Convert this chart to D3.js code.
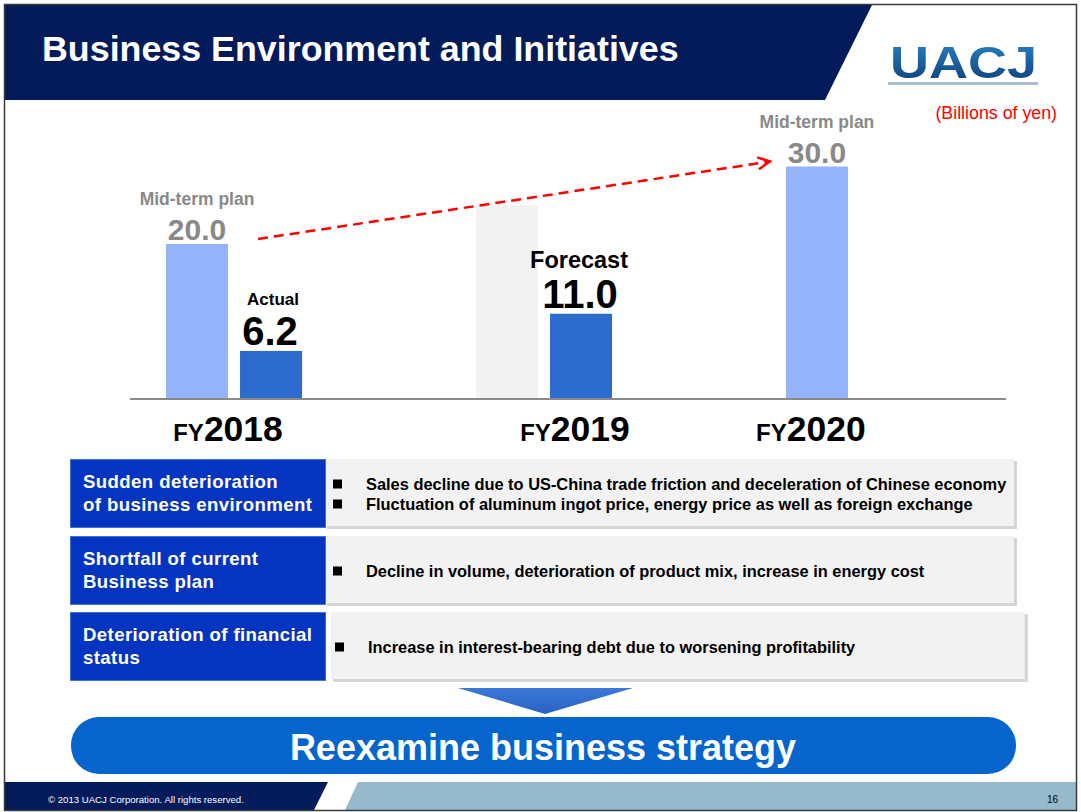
<!DOCTYPE html>
<html>
<head>
<meta charset="utf-8">
<title>Business Environment and Initiatives</title>
<style>
  body { margin: 0; background: #fff; }
  svg { display: block; font-family: "Liberation Sans", Arial, sans-serif; }
  text { font-weight: bold; }
</style>
</head>
<body>
<script src="https://cdn.jsdelivr.net/npm/d3@7"></script>
<script>
// ---- data ----
const categories = ['FY2018', 'FY2019', 'FY2020'];
const planValues = [20.0, null, 30.0];
const resultValues = [6.2, 11.0, null];
const ghostValues = [null, 25.0, null];   // faint placeholder bar in FY2019
const resultLabels = ['Actual', 'Forecast', null];
const planLabel = 'Mid-term plan';
const unitLabel = '(Billions of yen)';

const issueTitles = [
  ['Sudden deterioration', 'of business environment'],
  ['Shortfall of current', 'Business plan'],
  ['Deterioration of financial', 'status']
];
const issueDetails = [
  ['Sales decline due to US-China trade friction and deceleration of Chinese economy',
   'Fluctuation of aluminum ingot price, energy price as well as foreign exchange'],
  ['Decline in volume, deterioration of product mix, increase in energy cost'],
  ['Increase in interest-bearing debt due to worsening profitability']
];
const conclusion = 'Reexamine business strategy';

const width = 1081;
const height = 812;
const navy = '#031b5b';

const svg = d3.select('body').append('svg')
  .attr('width', width)
  .attr('height', height);

const defs = svg.append('defs');

// ---- header ----
svg.append('path')
  .attr('d', 'M5,5L872,5L825,100L5,100Z')
  .attr('fill', navy);

svg.append('text')
  .attr('x', 42).attr('y', 61)
  .attr('fill', '#fff')
  .style('font-size', '35.8px')
  .text('Business Environment and Initiatives');

// logo
const logoGrad = defs.append('linearGradient')
  .attr('id', 'logo-grad').attr('x1', 0).attr('y1', 0).attr('x2', 0).attr('y2', 1);
logoGrad.append('stop').attr('offset', '0%').attr('stop-color', '#2a86c6');
logoGrad.append('stop').attr('offset', '100%').attr('stop-color', '#0c3a78');

svg.append('text')
  .attr('x', 890).attr('y', 78)
  .attr('textLength', 147)
  .attr('lengthAdjust', 'spacingAndGlyphs')
  .attr('fill', 'url(#logo-grad)')
  .style('font-size', '44px')
  .text('UACJ');

svg.append('rect')
  .attr('x', 888).attr('y', 82).attr('width', 150).attr('height', 3)
  .attr('fill', '#a9bccf');

svg.append('text')
  .attr('x', 1057).attr('y', 119)
  .attr('text-anchor', 'end')
  .attr('fill', '#ff0000')
  .style('font-weight', 'normal')
  .style('font-size', '17.8px')
  .text(unitLabel);

// ---- bar chart ----
const x = d3.scaleBand()
  .domain(categories)
  .range([166, 922])
  .paddingInner(0.561);

const slot = d3.scaleBand()
  .domain(['plan', 'result'])
  .range([0, x.bandwidth()])
  .paddingInner(0.162);

const y = d3.scaleLinear()
  .domain([0, 30])
  .range([399, 166.5]);

const bars = [];
categories.forEach((c, i) => {
  if (ghostValues[i] != null) bars.push({ cat: c, kind: 'ghost', slot: 'plan', value: ghostValues[i] });
  if (planValues[i] != null) bars.push({ cat: c, kind: 'plan', slot: 'plan', value: planValues[i] });
  if (resultValues[i] != null) bars.push({ cat: c, kind: 'result', slot: 'result', value: resultValues[i], label: resultLabels[i] });
});

const barColor = { ghost: '#f2f2f2', plan: '#94b3fb', result: '#2d6bce' };
const bx = (d) => x(d.cat) + slot(d.slot);

svg.append('g').selectAll('rect')
  .data(bars)
  .join('rect')
    .attr('x', bx)
    .attr('y', (d) => y(d.value))
    .attr('width', slot.bandwidth())
    .attr('height', (d) => y(0) - y(d.value))
    .attr('fill', (d) => barColor[d.kind]);

// baseline
svg.append('line')
  .attr('x1', 130).attr('x2', 1006)
  .attr('y1', y(0)).attr('y2', y(0))
  .attr('stroke', '#8a8a8a')
  .attr('stroke-width', 2);

// plan labels
const planBars = bars.filter((d) => d.kind === 'plan');
const planG = svg.append('g').attr('fill', '#898989').attr('text-anchor', 'middle');
planG.selectAll('text.name')
  .data(planBars)
  .join('text')
    .attr('class', 'name')
    .attr('x', (d) => bx(d) + slot.bandwidth() / 2)
    .attr('y', (d) => y(d.value) - 39)
    .style('font-size', '17.5px')
    .text(planLabel);
planG.selectAll('text.val')
  .data(planBars)
  .join('text')
    .attr('class', 'val')
    .attr('x', (d) => bx(d) + slot.bandwidth() / 2)
    .attr('y', (d) => y(d.value) - 4)
    .style('font-size', '30px')
    .text((d) => d.value.toFixed(1));

// result labels
const resBars = bars.filter((d) => d.kind === 'result');
const resG = svg.append('g').attr('fill', '#000').attr('text-anchor', 'middle');
resG.selectAll('text.name')
  .data(resBars)
  .join('text')
    .attr('class', 'name')
    .attr('x', (d) => bx(d) + slot.bandwidth() / 2 + (d.label === 'Forecast' ? -2 : 2))
    .attr('y', (d) => y(d.value) - 46)
    .style('font-size', (d) => d.label === 'Forecast' ? '23.5px' : '17px')
    .text((d) => d.label);
resG.selectAll('text.val')
  .data(resBars)
  .join('text')
    .attr('class', 'val')
    .attr('x', (d) => bx(d) + slot.bandwidth() / 2 - 1)
    .attr('y', (d) => y(d.value) - 6)
    .style('font-size', '40px')
    .text((d) => d.value.toFixed(1));

// category labels, centred over the real (non-ghost) bars
const catG = svg.append('g').attr('text-anchor', 'middle').attr('fill', '#000');
categories.forEach((c) => {
  const real = bars.filter((d) => d.cat === c && d.kind !== 'ghost');
  const left = d3.min(real, bx);
  const right = d3.max(real, (d) => bx(d) + slot.bandwidth());
  const t = catG.append('text')
    .attr('x', (left + right) / 2 - 6)
    .attr('y', 441);
  t.append('tspan').style('font-size', '24px').text(c.slice(0, 2));
  t.append('tspan').style('font-size', '35.5px').text(c.slice(2));
});

// dashed red arrow from FY2018 plan to FY2020 plan
defs.append('marker')
  .attr('id', 'chev')
  .attr('markerUnits', 'userSpaceOnUse')
  .attr('markerWidth', 16).attr('markerHeight', 16)
  .attr('refX', 13).attr('refY', 7)
  .attr('orient', 'auto')
  .append('path')
    .attr('d', 'M1,1L13,7L1,13')
    .attr('fill', 'none')
    .attr('stroke', '#ff0000')
    .attr('stroke-width', 2.5);

const p0 = planBars[0];
const p1 = planBars[planBars.length - 1];
svg.append('line')
  .attr('x1', bx(p0) + slot.bandwidth() + 30)
  .attr('y1', y(p0.value) - 5)
  .attr('x2', bx(p1) - 16)
  .attr('y2', y(p1.value) - 5)
  .attr('stroke', '#ff0000')
  .attr('stroke-width', 2.5)
  .attr('stroke-dasharray', '10,6')
  .attr('marker-end', 'url(#chev)');

// ---- issue table ----
const rowTop = [459, 536, 612];
const rowH = 68;
const boxShift = [0, 0, 6];
const textShift = [0, 0, 2];

const rows = svg.append('g').selectAll('g')
  .data(issueTitles)
  .join('g')
    .attr('transform', (d, i) => `translate(0,${rowTop[i]})`);

rows.append('rect')
  .attr('x', (d, i) => 327 + boxShift[i])
  .attr('y', 2)
  .attr('width', (d, i) => 690 + boxShift[i] * 0.8)
  .attr('height', rowH)
  .attr('fill', '#d4d4d4');
rows.append('rect')
  .attr('x', (d, i) => 325 + boxShift[i])
  .attr('y', 0)
  .attr('width', (d, i) => 689 + boxShift[i] * 0.8)
  .attr('height', rowH - 1)
  .attr('fill', '#f2f2f2');

rows.append('rect')
  .attr('x', 70.5).attr('y', 0.5)
  .attr('width', 255).attr('height', rowH)
  .attr('fill', '#0535c0')
  .attr('stroke', '#4470da')
  .attr('stroke-width', 1);

rows.each(function (lines, i) {
  const g = d3.select(this);
  const mid = rowH / 2;
  lines.forEach((s, k) => {
    g.append('text')
      .attr('x', 83)
      .attr('y', mid + 6.5 + (k - (lines.length - 1) / 2) * 23)
      .attr('fill', '#fff')
      .style('font-size', '18.6px')
      .style('letter-spacing', '0.4px')
      .text(s);
  });
  const det = issueDetails[i];
  det.forEach((s, k) => {
    const cy = mid + 1 + (k - (det.length - 1) / 2) * 20;
    g.append('rect')
      .attr('x', 333 + textShift[i])
      .attr('y', cy - 4.5)
      .attr('width', 9).attr('height', 9)
      .attr('fill', '#000');
    g.append('text')
      .attr('x', 366 + textShift[i])
      .attr('y', cy + 5.5)
      .attr('fill', '#000')
      .style('font-size', '16.4px')
      .text(s);
  });
});

// ---- conclusion ----
const triGrad = defs.append('linearGradient')
  .attr('id', 'tri-grad').attr('x1', 0).attr('y1', 0).attr('x2', 0).attr('y2', 1);
triGrad.append('stop').attr('offset', '0%').attr('stop-color', '#3a78d6');
triGrad.append('stop').attr('offset', '100%').attr('stop-color', '#2a62c4');

svg.append('path')
  .attr('d', 'M458,688L633,688L545,714Z')
  .attr('fill', 'url(#tri-grad)');

svg.append('rect')
  .attr('x', 71).attr('y', 717)
  .attr('width', 945).attr('height', 57)
  .attr('rx', 28).attr('ry', 28)
  .attr('fill', '#0565cc');

svg.append('text')
  .attr('x', 543).attr('y', 760)
  .attr('text-anchor', 'middle')
  .attr('fill', '#fff')
  .style('font-size', '36px')
  .text(conclusion);

// ---- footer ----
svg.append('path')
  .attr('d', 'M5,782L328,782L314,810L5,810Z')
  .attr('fill', navy);
svg.append('path')
  .attr('d', 'M358,782L1077,782L1077,810L345,810Z')
  .attr('fill', '#97b9cc');

svg.append('text')
  .attr('x', 48).attr('y', 803)
  .attr('fill', '#fff')
  .style('font-weight', 'normal')
  .style('font-size', '9.6px')
  .text('\u00a9 2013 UACJ Corporation. All rights reserved.');

svg.append('text')
  .attr('x', 1058).attr('y', 803)
  .attr('text-anchor', 'end')
  .attr('fill', '#000')
  .style('font-weight', 'normal')
  .style('font-size', '10px')
  .text('16');

// slide frame
svg.append('rect')
  .attr('x', 4.5).attr('y', 4.5)
  .attr('width', 1072).attr('height', 806)
  .attr('fill', 'none')
  .attr('stroke', '#3a3a3a')
  .attr('stroke-width', 1.5);
</script>
</body>
</html>
